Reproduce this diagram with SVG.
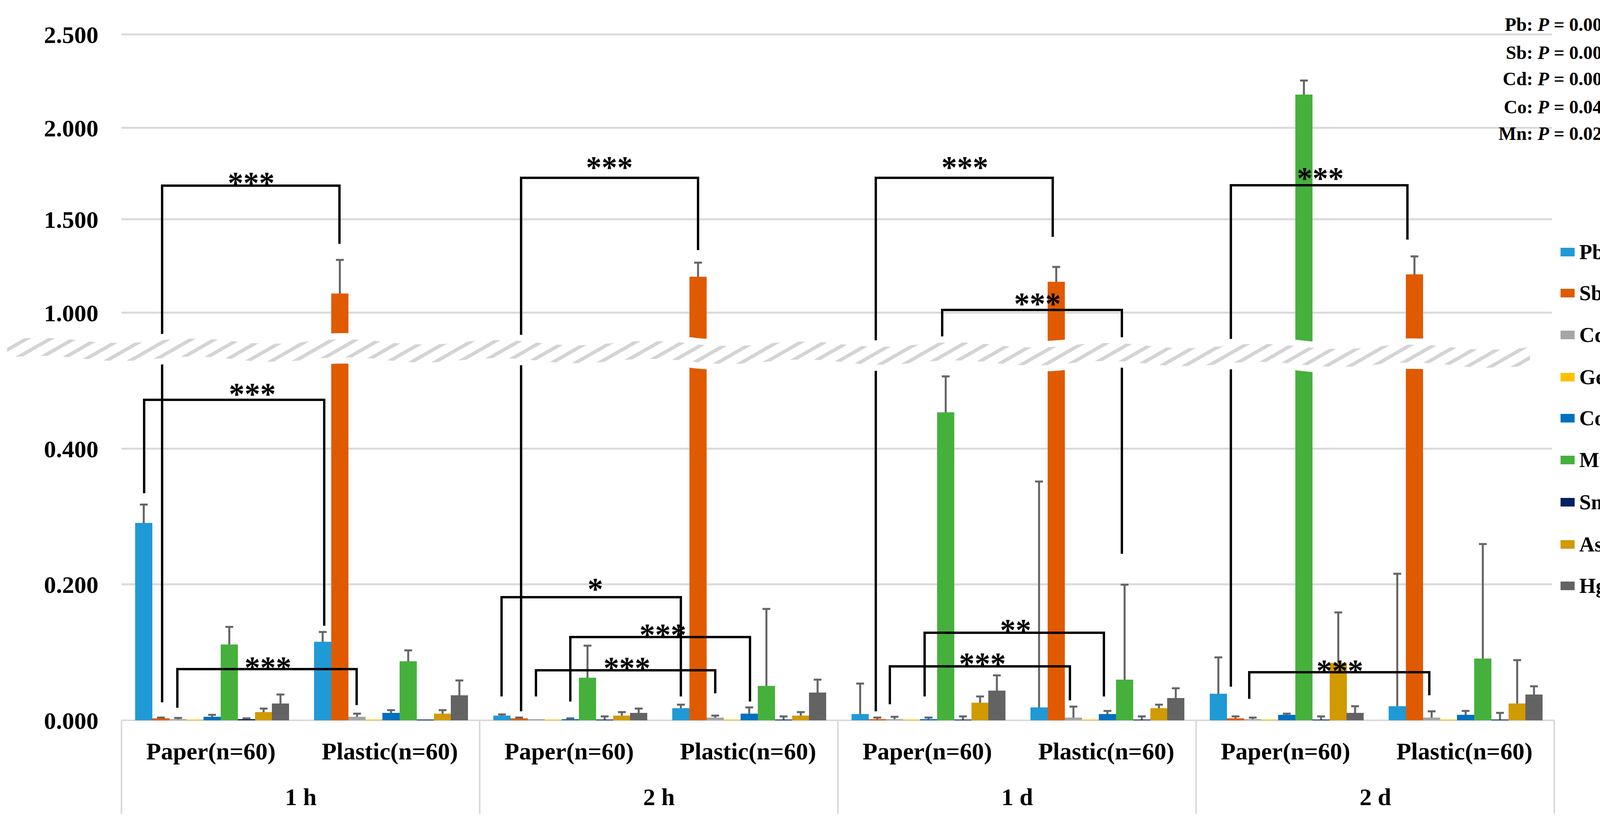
<svg xmlns="http://www.w3.org/2000/svg" width="4222" height="2116" viewBox="0 0 4222 2116">
<style>
text{font-family:"Liberation Serif","Times New Roman",serif;font-weight:bold;fill:#000}
.yl{font-size:62px;text-anchor:end}
.xl{font-size:62px;text-anchor:middle}
.st{font-size:80px;text-anchor:middle}
.pv{font-size:48px;text-anchor:end}
.lg{font-size:54px}
.grid{stroke:#d9d9d9;stroke-width:5}
.br{fill:none;stroke:#000;stroke-width:6}
.err{fill:none;stroke:#636363;stroke-width:5}
.pb{fill:#1f9ad6}.sb{fill:#e05a00}.cd{fill:#a5a5a5}.ge{fill:#ffc000}.co{fill:#0070c0}.mn{fill:#46b03c}.sn{fill:#002060}.as{fill:#d09a00}.hg{fill:#636363}
</style>
<defs>
<pattern id="hatch" width="30" height="30" patternUnits="userSpaceOnUse" patternTransform="rotate(60)"><rect width="30" height="30" fill="#fff"/><rect width="9" height="30" fill="#d4d4d4"/></pattern>
</defs>
<rect width="4222" height="2116" fill="#fff"/>
<g id="axes">
<path class="grid" d="M311,88H3973M311,327H3973M311,561H3973M311,800H3973M311,1148H3973M311,1495H3973"/>
<path stroke="#d9d9d9" stroke-width="4" d="M311,1843H3979M311,1843V2082M1228,1843V2082M2145,1843V2082M3062,1843V2082M3979,1843V2082"/>
<text class="yl" x="252" y="110">2.500</text>
<text class="yl" x="252" y="349">2.000</text>
<text class="yl" x="252" y="583">1.500</text>
<text class="yl" x="252" y="822">1.000</text>
<text class="yl" x="252" y="1170">0.400</text>
<text class="yl" x="252" y="1517">0.200</text>
<text class="yl" x="252" y="1865">0.000</text>
<text class="xl" x="540" y="1943">Paper(n=60)</text>
<text class="xl" x="998" y="1943">Plastic(n=60)</text>
<text class="xl" x="1457" y="1943">Paper(n=60)</text>
<text class="xl" x="1915" y="1943">Plastic(n=60)</text>
<text class="xl" x="2374" y="1943">Paper(n=60)</text>
<text class="xl" x="2832" y="1943">Plastic(n=60)</text>
<text class="xl" x="3291" y="1943">Paper(n=60)</text>
<text class="xl" x="3749" y="1943">Plastic(n=60)</text>
<text class="xl" x="770" y="2060">1 h</text>
<text class="xl" x="1687" y="2060">2 h</text>
<text class="xl" x="2604" y="2060">1 d</text>
<text class="xl" x="3521" y="2060">2 d</text>
</g>
<g id="bars">
<rect class="pb" x="346" y="1338" width="44" height="505"/><rect class="sb" x="390" y="1838" width="44" height="5"/><rect class="cd" x="434" y="1840" width="44" height="3"/><rect class="ge" x="477" y="1841" width="44" height="2"/><rect class="co" x="521" y="1834" width="44" height="9"/><rect class="mn" x="565" y="1649" width="44" height="194"/><rect class="sn" x="609" y="1840" width="44" height="3"/><rect class="as" x="653" y="1822" width="44" height="21"/><rect class="hg" x="696" y="1800" width="44" height="43"/>
<rect class="pb" x="804" y="1642" width="44" height="201"/><rect class="sb" x="848" y="751" width="44" height="1092"/><rect class="cd" x="892" y="1834" width="44" height="9"/><rect class="ge" x="935" y="1841" width="44" height="2"/><rect class="co" x="979" y="1824" width="44" height="19"/><rect class="mn" x="1023" y="1692" width="44" height="151"/><rect class="sn" x="1067" y="1841" width="44" height="2"/><rect class="as" x="1111" y="1826" width="44" height="17"/><rect class="hg" x="1154" y="1779" width="44" height="64"/>
<rect class="pb" x="1263" y="1831" width="44" height="12"/><rect class="sb" x="1307" y="1838" width="44" height="5"/><rect class="cd" x="1351" y="1840" width="44" height="3"/><rect class="ge" x="1394" y="1841" width="44" height="2"/><rect class="co" x="1438" y="1840" width="44" height="3"/><rect class="mn" x="1482" y="1734" width="44" height="109"/><rect class="sn" x="1526" y="1841" width="44" height="2"/><rect class="as" x="1570" y="1831" width="44" height="12"/><rect class="hg" x="1613" y="1824" width="44" height="19"/>
<rect class="pb" x="1721" y="1812" width="44" height="31"/><rect class="sb" x="1765" y="708" width="44" height="1135"/><rect class="cd" x="1809" y="1836" width="44" height="7"/><rect class="ge" x="1852" y="1841" width="44" height="2"/><rect class="co" x="1896" y="1826" width="44" height="17"/><rect class="mn" x="1940" y="1755" width="44" height="88"/><rect class="sn" x="1984" y="1841" width="44" height="2"/><rect class="as" x="2028" y="1831" width="44" height="12"/><rect class="hg" x="2071" y="1772" width="44" height="71"/>
<rect class="pb" x="2180" y="1827" width="44" height="16"/><rect class="sb" x="2224" y="1840" width="44" height="3"/><rect class="cd" x="2268" y="1840" width="44" height="3"/><rect class="ge" x="2311" y="1841" width="44" height="2"/><rect class="co" x="2355" y="1840" width="44" height="3"/><rect class="mn" x="2399" y="1055" width="44" height="788"/><rect class="sn" x="2443" y="1841" width="44" height="2"/><rect class="as" x="2487" y="1798" width="44" height="45"/><rect class="hg" x="2530" y="1767" width="44" height="76"/>
<rect class="pb" x="2638" y="1810" width="44" height="33"/><rect class="sb" x="2682" y="721" width="44" height="1122"/><rect class="cd" x="2726" y="1836" width="44" height="7"/><rect class="ge" x="2769" y="1841" width="44" height="2"/><rect class="co" x="2813" y="1827" width="44" height="16"/><rect class="mn" x="2857" y="1739" width="44" height="104"/><rect class="sn" x="2901" y="1841" width="44" height="2"/><rect class="as" x="2945" y="1812" width="44" height="31"/><rect class="hg" x="2988" y="1786" width="44" height="57"/>
<rect class="pb" x="3097" y="1775" width="44" height="68"/><rect class="sb" x="3141" y="1838" width="44" height="5"/><rect class="cd" x="3185" y="1840" width="44" height="3"/><rect class="ge" x="3228" y="1841" width="44" height="2"/><rect class="co" x="3272" y="1829" width="44" height="14"/><rect class="mn" x="3316" y="242" width="44" height="1601"/><rect class="sn" x="3360" y="1841" width="44" height="2"/><rect class="as" x="3404" y="1696" width="44" height="147"/><rect class="hg" x="3447" y="1824" width="44" height="19"/>
<rect class="pb" x="3555" y="1807" width="44" height="36"/><rect class="sb" x="3599" y="702" width="44" height="1141"/><rect class="cd" x="3643" y="1836" width="44" height="7"/><rect class="ge" x="3686" y="1841" width="44" height="2"/><rect class="co" x="3730" y="1829" width="44" height="14"/><rect class="mn" x="3774" y="1685" width="44" height="158"/><rect class="sn" x="3818" y="1841" width="44" height="2"/><rect class="as" x="3862" y="1800" width="44" height="43"/><rect class="hg" x="3905" y="1777" width="44" height="66"/>
</g>
<g id="errorbars" class="err">
<path d="M368,1338V1291m-10,0h20M412,1838V1836m-10,0h20M456,1840V1837m-10,0h20M543,1834V1829m-10,0h20M587,1649V1604m-10,0h20M631,1840V1838m-10,0h20M675,1822V1813m-10,0h20M718,1800V1777m-10,0h20"/>
<path d="M826,1642V1617m-10,0h20M870,751V665m-10,0h20M914,1834V1826m-10,0h20M1001,1824V1817m-10,0h20M1045,1692V1664m-10,0h20M1133,1826V1817m-10,0h20M1176,1779V1741m-10,0h20"/>
<path d="M1285,1831V1828m-10,0h20M1329,1838V1836m-10,0h20M1460,1840V1838m-10,0h20M1504,1734V1652m-10,0h20M1548,1841V1833m-10,0h20M1592,1831V1822m-10,0h20M1635,1824V1813m-10,0h20"/>
<path d="M1743,1812V1803m-10,0h20M1787,708V672m-10,0h20M1831,1836V1831m-10,0h20M1918,1826V1810m-10,0h20M1962,1755V1558m-10,0h20M2006,1841V1833m-10,0h20M2050,1831V1822m-10,0h20M2093,1772V1739m-10,0h20"/>
<path d="M2202,1827V1749m-10,0h20M2246,1840V1836m-10,0h20M2290,1840V1834m-10,0h20M2377,1840V1836m-10,0h20M2421,1055V963m-10,0h20M2465,1841V1833m-10,0h20M2509,1798V1782m-10,0h20M2552,1767V1728m-10,0h20"/>
<path d="M2660,1810V1232m-10,0h20M2704,721V683m-10,0h20M2748,1836V1808m-10,0h20M2835,1827V1819m-10,0h20M2879,1739V1496m-10,0h20M2923,1841V1833m-10,0h20M2967,1812V1803m-10,0h20M3010,1786V1761m-10,0h20"/>
<path d="M3119,1775V1682m-10,0h20M3163,1838V1833m-10,0h20M3207,1840V1836m-10,0h20M3294,1829V1826m-10,0h20M3338,242V206m-10,0h20M3382,1841V1833m-10,0h20M3426,1696V1567m-10,0h20M3469,1824V1807m-10,0h20"/>
<path d="M3577,1807V1468m-10,0h20M3621,702V656m-10,0h20M3665,1836V1820m-10,0h20M3752,1829V1819m-10,0h20M3796,1685V1392m-10,0h20M3840,1841V1824m-10,0h20M3884,1800V1689m-10,0h20M3927,1777V1756m-10,0h20"/>
</g>
<g id="connectors">
<path class="br" d="M415,1797V475H869V624"/>
<path class="br" d="M369,1262V1023H830V1601"/>
<path class="br" d="M454,1811V1712H913V1804"/>
<path class="br" d="M1334,1820V455H1787V640"/>
<path class="br" d="M1284,1782V1528H1743V1782"/>
<path class="br" d="M1460,1795V1630H1920V1795"/>
<path class="br" d="M1372,1782V1715H1831V1774"/>
<path class="br" d="M2242,1820V455H2695V606"/>
<path class="br" d="M2412,935V793H2872V1417"/>
<path class="br" d="M2367,1782V1619H2826V1782"/>
<path class="br" d="M2278,1802V1705H2739V1792"/>
<path class="br" d="M3151,1757V474H3603V613"/>
<path class="br" d="M3198,1788V1720H3659V1779"/>
</g>
<g id="break" transform="skewY(0.28)">
<path fill="url(#hatch)" stroke="#fff" stroke-width="16" d="M10,862 Q107,850 205,862 T400,862 T595,862 T790,862 T985,862 T1180,862 T1375,862 T1570,862 T1765,862 T1960,862 T2155,862 T2350,862 T2545,862 T2740,862 T2935,862 T3130,862 T3325,862 T3520,862 T3715,862 T3910,862 L3925,862 L3925,924 L3910,924 Q3812,936 3715,924 T3520,924 T3325,924 T3130,924 T2935,924 T2740,924 T2545,924 T2350,924 T2155,924 T1960,924 T1765,924 T1570,924 T1375,924 T1180,924 T985,924 T790,924 T595,924 T400,924 T205,924 T10,924 Z"/>
</g>
<g id="sig">
<text class="st" x="643" y="495">***</text>
<text class="st" x="646" y="1035">***</text>
<text class="st" x="686" y="1735">***</text>
<text class="st" x="1560" y="455">***</text>
<text class="st" x="1524" y="1534">*</text>
<text class="st" x="1697" y="1651">***</text>
<text class="st" x="1605" y="1736">***</text>
<text class="st" x="2470" y="455">***</text>
<text class="st" x="2656" y="804">***</text>
<text class="st" x="2600" y="1639">**</text>
<text class="st" x="2515" y="1725">***</text>
<text class="st" x="3380" y="483">***</text>
<text class="st" x="3430" y="1743">***</text>
</g>
<g id="pvalues">
<text class="pv" x="4125" y="79">Pb: <tspan font-style="italic">P</tspan> = 0.000</text>
<text class="pv" x="4125" y="151">Sb: <tspan font-style="italic">P</tspan> = 0.000</text>
<text class="pv" x="4125" y="218">Cd: <tspan font-style="italic">P</tspan> = 0.000</text>
<text class="pv" x="4125" y="290">Co: <tspan font-style="italic">P</tspan> = 0.044</text>
<text class="pv" x="4125" y="358">Mn: <tspan font-style="italic">P</tspan> = 0.028</text>
</g>
<g id="legend">
<rect class="pb" x="3995" y="634" width="36" height="22"/><text class="lg" x="4043" y="663">Pb</text>
<rect class="sb" x="3995" y="739" width="36" height="22"/><text class="lg" x="4043" y="768">Sb</text>
<rect class="cd" x="3995" y="846" width="36" height="22"/><text class="lg" x="4043" y="875">Cd</text>
<rect class="ge" x="3995" y="954" width="36" height="22"/><text class="lg" x="4043" y="983">Ge</text>
<rect class="co" x="3995" y="1059" width="36" height="22"/><text class="lg" x="4043" y="1088">Co</text>
<rect class="mn" x="3995" y="1166" width="36" height="22"/><text class="lg" x="4043" y="1195">Mn</text>
<rect class="sn" x="3995" y="1274" width="36" height="22"/><text class="lg" x="4043" y="1303">Sn</text>
<rect class="as" x="3995" y="1382" width="36" height="22"/><text class="lg" x="4043" y="1411">As</text>
<rect class="hg" x="3995" y="1488" width="36" height="22"/><text class="lg" x="4043" y="1517">Hg</text>
</g>
</svg>
